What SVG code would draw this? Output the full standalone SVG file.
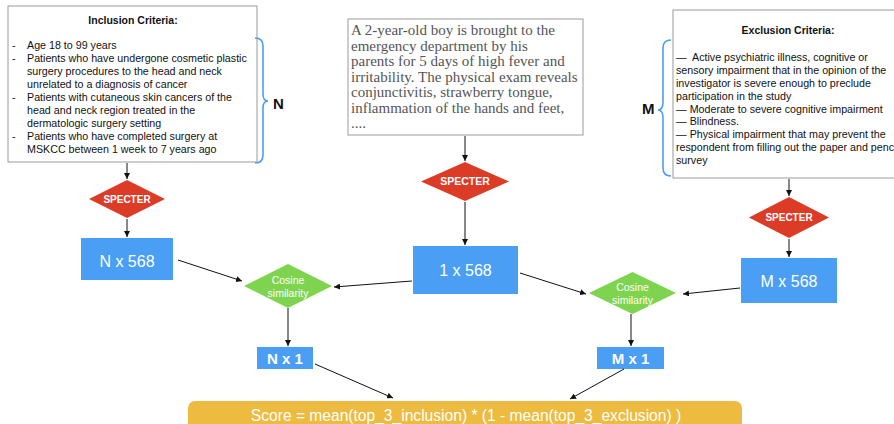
<svg xmlns="http://www.w3.org/2000/svg" width="894" height="424" viewBox="0 0 894 424">
<defs>
<marker id="ah" viewBox="0 0 10 10" refX="10" refY="5" markerWidth="6" markerHeight="6" markerUnits="userSpaceOnUse" orient="auto"><path d="M0,0 L10,5 L0,10 z" fill="#111"/></marker>
<style>
.box{fill:#fff;stroke:#9a9a9a;stroke-width:1}
.crit{font-family:"Liberation Sans",Arial,sans-serif;font-size:10.7px;fill:#111}
.ttl{font-family:"Liberation Sans",Arial,sans-serif;font-size:10.5px;font-weight:bold;fill:#111}
.serif{font-family:"Liberation Serif","Times New Roman",serif;font-size:15px;fill:#555}
.brace{fill:none;stroke:#4a9ff5;stroke-width:1.6}
.lbl{font-family:"Liberation Sans",Arial,sans-serif;font-size:15px;font-weight:bold;fill:#111}
.red{fill:#dc3b26}
.blue{fill:#4a9ff5}
.green{fill:#7ed34f}
.wt{font-family:"Liberation Sans",Arial,sans-serif;fill:#fff;text-anchor:middle}
.conn line{stroke:#111;stroke-width:1;marker-end:url(#ah)}
</style>
</defs>
<rect width="894" height="424" fill="#fff"/>

<g id="inclusion">
<rect class="box" x="8" y="6" width="249" height="156"/>
<text class="ttl" x="133" y="24" text-anchor="middle">Inclusion Criteria:</text>
<g class="crit">
<text x="12" y="49">-</text><text x="27" y="49">Age 18 to 99 years</text>
<text x="12" y="62">-</text><text x="27" y="62">Patients who have undergone cosmetic plastic</text>
<text x="27" y="75">surgery procedures to the head and neck</text>
<text x="27" y="88">unrelated to a diagnosis of cancer</text>
<text x="12" y="100.5">-</text><text x="27" y="100.5">Patients with cutaneous skin cancers of the</text>
<text x="27" y="113.5">head and neck region treated in the</text>
<text x="27" y="126.5">dermatologic surgery setting</text>
<text x="12" y="139.5">-</text><text x="27" y="139.5">Patients who have completed surgery at</text>
<text x="27" y="152.5">MSKCC between 1 week to 7 years ago</text>
</g>
</g>

<g id="brace-n">
<path class="brace" d="M255,38 Q263,38 263,46 L263,94 Q263,101 268,101 Q263,101 263,108 L263,155 Q263,163 255,163"/>
<text class="lbl" x="273" y="109">N</text>
</g>

<g id="case">
<rect class="box" x="348" y="19" width="235" height="116"/>
<g class="serif">
<text x="351" y="35">A 2-year-old boy is brought to the</text>
<text x="351" y="50.5">emergency department by his</text>
<text x="351" y="66">parents for 5 days of high fever and</text>
<text x="351" y="81.5">irritability. The physical exam reveals</text>
<text x="351" y="97">conjunctivitis, strawberry tongue,</text>
<text x="351" y="112.5">inflammation of the hands and feet,</text>
<text x="351" y="128">....</text>
</g>
</g>

<g id="exclusion">
<rect class="box" x="673" y="10" width="230" height="168"/>
<text class="ttl" x="788" y="34" text-anchor="middle">Exclusion Criteria:</text>
<g class="crit">
<text x="676" y="61" xml:space="preserve">—  Active psychiatric illness, cognitive or</text>
<text x="676" y="74">sensory impairment that in the opinion of the</text>
<text x="676" y="87">investigator is severe enough to preclude</text>
<text x="676" y="100">participation in the study</text>
<text x="676" y="112.5">— Moderate to severe cognitive impairment</text>
<text x="676" y="125">— Blindness.</text>
<text x="676" y="138">— Physical impairment that may prevent the</text>
<text x="676" y="151">respondent from filling out the paper and pencil</text>
<text x="676" y="164">survey</text>
</g>
</g>

<g id="brace-m">
<path class="brace" d="M671,40 Q663,40 663,48 L663,102 Q663,110 658,110 Q663,110 663,118 L663,168 Q663,176 671,176"/>
<text class="lbl" x="642" y="114">M</text>
</g>

<g id="specter-n">
<polygon class="red" points="127,180 165,199 127,218 89,199"/>
<text class="wt" x="127" y="202.5" font-size="10" font-weight="bold">SPECTER</text>
</g>
<g id="specter-case">
<polygon class="red" points="465,162 509,181.5 465,201 421,181.5"/>
<text class="wt" x="465" y="185" font-size="10.5" font-weight="bold">SPECTER</text>
</g>
<g id="specter-m">
<polygon class="red" points="789,197 829,217.5 789,238 749,217.5"/>
<text class="wt" x="789" y="221" font-size="10" font-weight="bold">SPECTER</text>
</g>

<g id="n568">
<rect class="blue" x="81" y="238" width="92" height="42"/>
<text class="wt" x="127" y="266.5" font-size="16">N x 568</text>
</g>
<g id="c568">
<rect class="blue" x="413" y="246" width="105" height="48"/>
<text class="wt" x="465.5" y="275.5" font-size="16">1 x 568</text>
</g>
<g id="m568">
<rect class="blue" x="741" y="258" width="96" height="45"/>
<text class="wt" x="789" y="286.5" font-size="16">M x 568</text>
</g>

<g id="cos-n">
<polygon class="green" points="288,264 332,286 288,308 244,286"/>
<text class="wt" x="288" y="284" font-size="10.5">Cosine</text>
<text class="wt" x="288" y="296.5" font-size="10.5">similarity</text>
</g>
<g id="cos-m">
<polygon class="green" points="632.5,272 676,293 632.5,314 589,293"/>
<text class="wt" x="632.5" y="291" font-size="10.5">Cosine</text>
<text class="wt" x="632.5" y="303.5" font-size="10.5">similarity</text>
</g>

<g id="n1">
<rect class="blue" x="257" y="347" width="56" height="22"/>
<text class="wt" x="285" y="363.5" font-size="15" font-weight="bold">N x 1</text>
</g>
<g id="m1">
<rect class="blue" x="597" y="347" width="67" height="22"/>
<text class="wt" x="630.5" y="363.5" font-size="15" font-weight="bold">M x 1</text>
</g>

<g id="score">
<rect x="188" y="401" width="554" height="34" rx="7" fill="#edbb40"/>
<text class="wt" x="466" y="421" font-size="15.6">Score = mean(top_3_inclusion) * (1 - mean(top_3_exclusion) )</text>
</g>

<g id="connectors" class="conn">
<line x1="127" y1="163" x2="127" y2="179"/>
<line x1="127" y1="219" x2="127" y2="237"/>
<line x1="178" y1="260" x2="242" y2="281"/>
<line x1="412" y1="281" x2="334" y2="287"/>
<line x1="520" y1="273" x2="586" y2="294"/>
<line x1="740" y1="288" x2="683" y2="294"/>
<line x1="465" y1="136" x2="465" y2="161"/>
<line x1="465" y1="202" x2="465" y2="245"/>
<line x1="789" y1="179" x2="789" y2="196"/>
<line x1="789" y1="239" x2="789" y2="257"/>
<line x1="288" y1="308" x2="288" y2="346"/>
<line x1="631" y1="314" x2="631" y2="346"/>
<line x1="315" y1="364" x2="393" y2="398"/>
<line x1="624" y1="369" x2="570" y2="399"/>
</g>
</svg>
